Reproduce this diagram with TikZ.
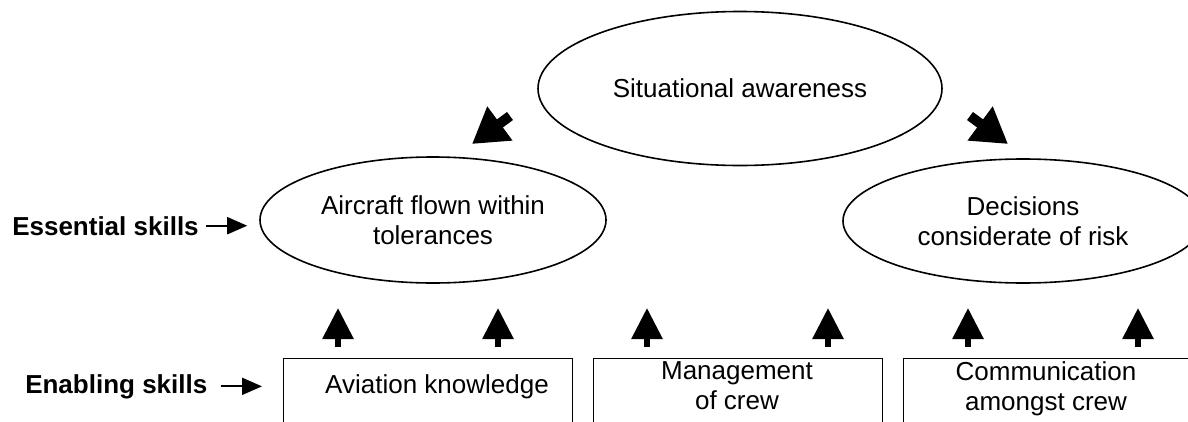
\documentclass[tikz,border=0pt]{standalone}
\usepackage{fontspec}
\setmainfont{Liberation Sans}
\usetikzlibrary{shapes.geometric,arrows.meta}
\begin{document}
\begin{tikzpicture}[x=0.75pt,y=-0.75pt,
  txt/.style={font=\fontsize{19.5}{22.5}\selectfont, align=center, inner sep=0pt},
  lbl/.style={font=\fontsize{19.5}{22.5}\selectfont\bfseries, inner sep=0pt},
  oval/.style={draw, ellipse, line width=1.2pt, inner sep=0pt, txt},
  skillbox/.style={draw, rectangle, line width=1.1pt, minimum width=216.75pt, minimum height=100pt, anchor=north west, inner sep=0pt},
  labarrow/.style={line width=1.5pt, -{Triangle[length=15pt, width=12.75pt]}},
  blockup/.style={line width=4.5pt, -{Triangle[length=23.25pt, width=22.5pt]}},
  blockdiag/.style={line width=7.5pt, -{Triangle[length=26pt, width=30pt]}}
]
\useasboundingbox (0,0) rectangle (1188,421);
\begin{scope}
\clip (0,0) rectangle (1188,421);
% ellipses
\node[oval, minimum width=303pt, minimum height=115.5pt] (sa) at (740,88.5) {Situational awareness};
\node[oval, minimum width=259.5pt, minimum height=94.5pt] (air) at (433,220) {Aircraft flown within\\tolerances};
\node[oval, minimum width=270pt, minimum height=93pt] (dec) at (1023,221) {Decisions\\considerate of risk};
% boxes
\node[skillbox] (kb) at (283,357.5) {};
\node[skillbox] (mb) at (593,357.5) {};
\node[skillbox] (cb) at (903,357.5) {};
\node[txt, anchor=base] (kt) at (437,393) {Aviation knowledge};
\node[txt] (mt) at (737,386) {Management\\of crew};
\node[txt] (ct) at (1046,388.8) {Communication\\amongst crew};
% side labels
\node[lbl, anchor=base west] (ess) at (12,235) {Essential skills};
\node[lbl, anchor=base west] (ena) at (25,393) {Enabling skills};
\draw[labarrow, shorten <=5.25pt, shorten >=9pt] (ess.east) -- (ess.east -| air.west);
\draw[labarrow, shorten <=9.75pt, shorten >=15.75pt] (ena.east) -- (ena.east -| kb.west);
% diagonal block arrows
\coordinate (d1s) at (510,116);
\coordinate (d1e) at (472,144);
\coordinate (d2s) at (970,116);
\coordinate (d2e) at (1008,144);
\draw[blockdiag] (d1s) -- (d1e);
\draw[blockdiag] (d2s) -- (d2e);
% vertical block arrows
\foreach \i/\x in {1/338,2/498,3/647,4/828,5/968,6/1138}{
  \coordinate (u\i s) at (\x,347);
  \coordinate (u\i e) at (\x,308);
  \draw[blockup] (u\i s) -- (u\i e);
}
\end{scope}
\end{tikzpicture}
\end{document}
